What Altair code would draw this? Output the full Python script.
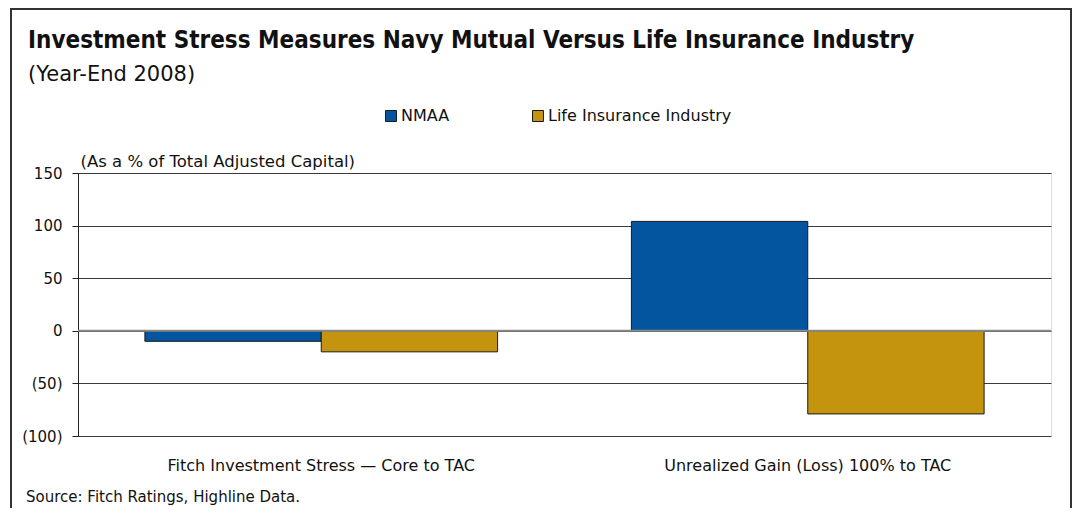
import altair as alt
import pandas as pd

categories = ["Fitch Investment Stress \u2014 Core to TAC", "Unrealized Gain (Loss) 100% to TAC"]
series = ["NMAA", "Life Insurance Industry"]
nmaa = [-10, 104]
life = [-20, -79]
colors = ["#02559E", "#C4940E"]
y_ticks = [-100, -50, 0, 50, 100, 150]

title = "Investment Stress Measures Navy Mutual Versus Life Insurance Industry"
subtitle = "(Year-End 2008)"
y_label = "(As a % of Total Adjusted Capital)"
source = "Source: Fitch Ratings, Highline Data."

FONT_T = "DejaVu Sans Condensed, DejaVu Sans"
FONT = "DejaVu Sans"

rows = []
for i, c in enumerate(categories):
    rows.append({"cat": c, "series": series[0], "val": nmaa[i]})
    rows.append({"cat": c, "series": series[1], "val": life[i]})
df = pd.DataFrame(rows)

x_enc = alt.X("cat:N", sort=categories,
              scale=alt.Scale(paddingInner=0.275, paddingOuter=0.1375),
              axis=alt.Axis(title=None, domain=False, ticks=False, labelAngle=0,
                            labelFontSize=16, labelPadding=21, labelColor="#111",
                            labelFont=FONT, labelLimit=0))
y_enc = alt.Y("val:Q",
              scale=alt.Scale(domain=[-100, 150], nice=False, zero=False),
              axis=alt.Axis(values=y_ticks, title=y_label, titleAngle=0,
                            titleX=2, titleY=-12, titleAlign="left",
                            titleBaseline="middle", titleFontSize=16.5,
                            titleFontWeight="normal", titleFont=FONT,
                            titleColor="#111", titleLimit=0,
                            labelExpr="datum.value < 0 ? '(' + abs(datum.value) + ')' : datum.value",
                            labelFontSize=15, labelPadding=10, labelColor="#111",
                            labelFont=FONT,
                            tickSize=6, tickColor="#222", domainColor="#222",
                            grid=True, gridColor="#3a3a3a", gridWidth=1))

bars = alt.Chart(df).mark_bar(stroke="#1a1a1a", strokeWidth=1).encode(
    x=x_enc,
    xOffset=alt.XOffset("series:N", sort=series),
    y=y_enc,
    color=alt.Color("series:N", sort=series,
                    scale=alt.Scale(domain=series, range=colors),
                    legend=alt.Legend(title=None, orient="none", direction="horizontal",
                                      legendX=305, legendY=-65,
                                      symbolType="square", symbolSize=121,
                                      symbolStrokeColor="#1a1a1a", symbolStrokeWidth=1,
                                      symbolOpacity=1,
                                      labelFontSize=16, labelFont=FONT, labelColor="#111",
                                      labelLimit=0,
                                      labelOffset=2, columnPadding=80)),
)

zero = alt.Chart(pd.DataFrame({"z": [0]})).mark_rule(color="#8a8a8a", strokeWidth=2).encode(
    y=alt.Y("z:Q")
)

def txt(text, x, y, size, weight="normal", font=FONT):
    return alt.Chart(pd.DataFrame({"t": [text]})).mark_text(
        align="left", baseline="middle", fontSize=size, fontWeight=weight,
        font=font, color="#111"
    ).encode(text="t:N", x=alt.value(x), y=alt.value(y))

frame = alt.Chart(pd.DataFrame({"a": [0]})).mark_rect(
    fill=None, stroke="#333", strokeWidth=2
).encode(x=alt.value(-67), x2=alt.value(993), y=alt.value(-164), y2=alt.value(420))

chart = alt.layer(
    bars, zero,
    txt(title, -50, -132, 24, "bold", FONT_T),
    txt(subtitle, -50, -98, 21),
    txt(source, -52, 324, 15),
    frame,
).properties(
    width=973, height=263,
    autosize=alt.AutoSizeParams(type="none"),
    padding={"left": 70, "top": 165, "right": 22, "bottom": 72},
).configure_view(stroke=None).configure(background="white")

chart.save("out.html", embed_options={"renderer": "svg", "actions": False})
